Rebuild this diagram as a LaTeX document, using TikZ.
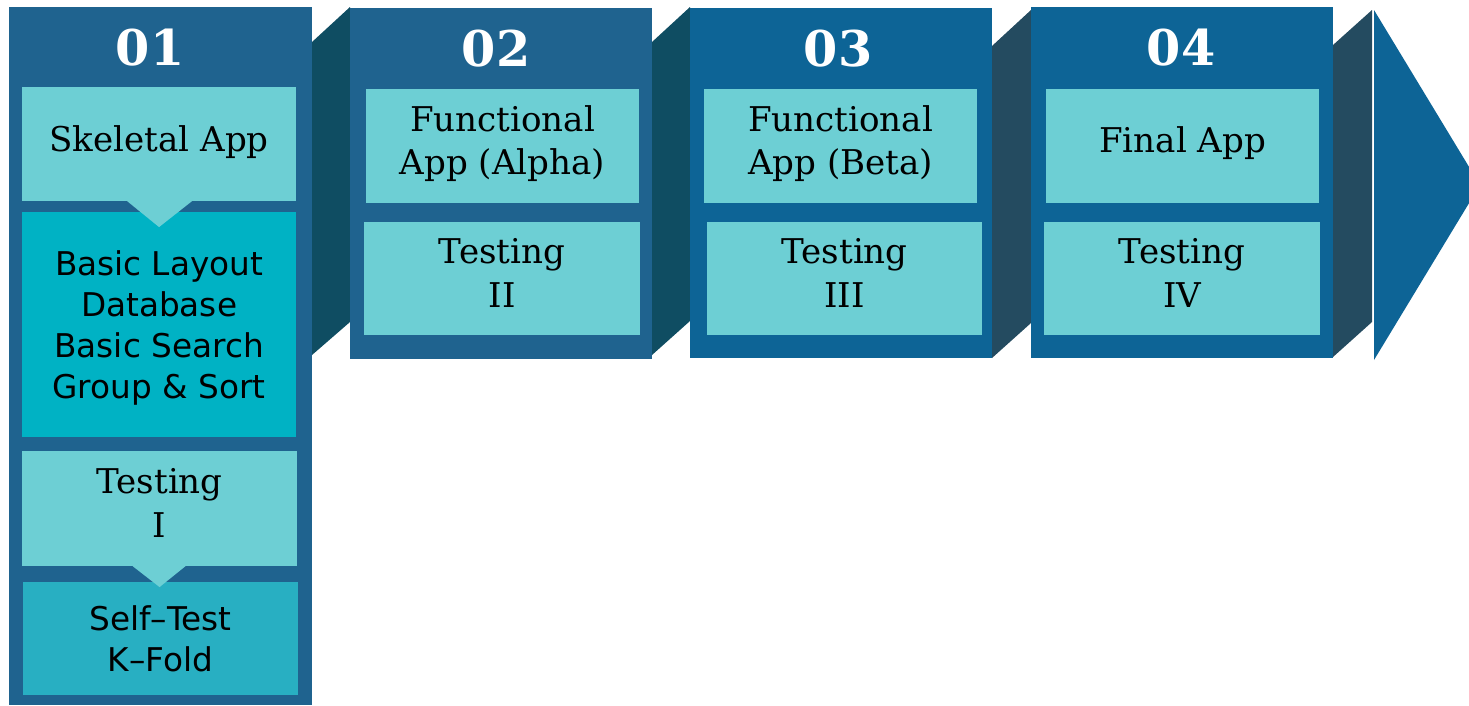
\documentclass[tikz,border=0pt]{standalone}
\usepackage{fontspec}
\setmainfont{DejaVu Serif}
\newfontfamily\stepsans{DejaVu Sans}
\usetikzlibrary{positioning}

\definecolor{panelA}{RGB}{31,99,143}
\definecolor{panelB}{RGB}{13,100,150}
\definecolor{sideA}{RGB}{15,77,98}
\definecolor{sideB}{RGB}{36,75,96}
\definecolor{lightbox}{RGB}{109,207,212}
\definecolor{midbox}{RGB}{0,178,196}
\definecolor{selfbox}{RGB}{40,175,194}

\tikzset{
  panel/.style={anchor=north west, inner sep=0pt, outer sep=0pt, minimum width=3.03cm},
  card/.style={anchor=north west, inner sep=0pt, outer sep=0pt, align=center,
    minimum width=2.74cm, minimum height=1.14cm, fill=lightbox, text depth=0.12cm,
    font=\fontsize{9.7}{12.5}\selectfont},
  sanscard/.style={card, text depth=0cm, font=\stepsans\fontsize{9.3}{11.6}\selectfont},
  num/.style={text=white, inner sep=0pt, font=\bfseries\fontsize{14}{16}\selectfont},
}

\begin{document}
\begin{tikzpicture}[x=0.01cm, y=-0.01cm]
        \useasboundingbox (0,0) rectangle (1469,705);
        \clip (0,0) rectangle (1469,705);
        % side faces between the stages
        \fill [sideA] (312,42) -- (350,7) -- (350,322) -- (312,355) -- cycle;
        \fill [sideA] (652,42) -- (690,7) -- (690,321) -- (652,355) -- cycle;
        \fill [sideB] (992,46) -- (1031,10) -- (1031,323) -- (992,358) -- cycle;
        \fill [sideB] (1333,45) -- (1372,10) -- (1372,322) -- (1333,357) -- cycle;
        \fill [panelB] (1374,10) -- (1480,185) -- (1374,360) -- cycle;
        % stages
        \node [panel, fill=panelA, minimum height=6.98cm] (p1) at (9,7) {};
        \node [panel, fill=panelA, minimum height=3.51cm, minimum width=3.02cm] (p2) at (350,8) {};
        \node [panel, fill=panelB, minimum height=3.50cm, minimum width=3.02cm] (p3) at (690,8) {};
        \node [panel, fill=panelB, minimum height=3.51cm, minimum width=3.02cm] (p4) at (1031,7) {};
        \node [num] (n1) at (150,48) {01};
        \node [num] (n2) at (496,49) {02};
        \node [num] (n3) at (838,49) {03};
        \node [num] (n4) at (1181,48) {04};
        % stage 1
        \node [card] (skel) at (22,87) {Skeletal App};
        \node [sanscard, fill=midbox, minimum height=2.25cm] (basic) at (22,212)
            {Basic Layout\\Database\\Basic Search\\Group \& Sort};
        \node [card, minimum width=2.75cm, minimum height=1.15cm] (test1) at (22,451) {Testing\\I};
        \node [sanscard, fill=selfbox, minimum width=2.75cm, minimum height=1.13cm] (self) at (23,582)
            {Self–Test\\K–Fold};
        \fill [lightbox] ([xshift=-0.32cm]skel.south) -- ([yshift=-0.26cm]skel.south)
            -- ([xshift=0.33cm]skel.south) -- cycle;
        \fill [lightbox] ([xshift=-0.27cm]test1.south) -- ([yshift=-0.21cm]test1.south)
            -- ([xshift=0.26cm]test1.south) -- cycle;
        % stage 2
        \node [card, minimum width=2.73cm] (alpha) at (366,89) {Functional\\App (Alpha)};
        \node [card, minimum width=2.76cm, minimum height=1.13cm] (test2) at (364,222) {Testing\\II};
        % stage 3
        \node [card, minimum width=2.73cm] (beta) at (704,89) {Functional\\App (Beta)};
        \node [card, minimum width=2.75cm, minimum height=1.13cm] (test3) at (707,222) {Testing\\III};
        % stage 4
        \node [card, minimum width=2.73cm] (final) at (1046,89) {Final App};
        \node [card, minimum width=2.76cm, minimum height=1.13cm] (test4) at (1044,222) {Testing\\IV};
    \end{tikzpicture}
\end{document}
